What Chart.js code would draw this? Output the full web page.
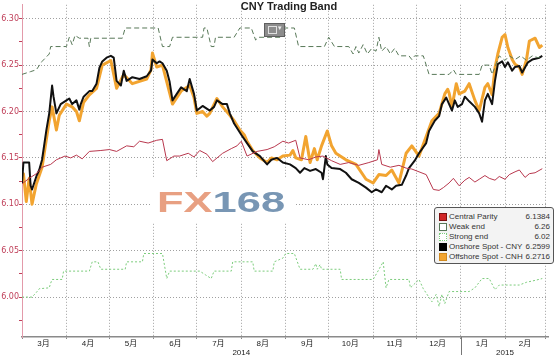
<!DOCTYPE html>
<html>
<head>
<meta charset="utf-8">
<script src="https://cdn.jsdelivr.net/npm/chart.js@4.4.1/dist/chart.umd.min.js"></script>
<style>
  html, body { margin: 0; padding: 0; background: #fff; }
  #wrap { position: relative; width: 555px; height: 355px; overflow: hidden; font-family: "Liberation Sans", Arial, sans-serif; }
  #chart { position: absolute; left: 0; top: 0; }
  #title { position: absolute; left: 189px; width: 200px; top: 0px; text-align: center; font-weight: bold; font-size: 11px; color: #222; }
  #icon { position: absolute; left: 264px; top: 23px; width: 19px; height: 12px; background: #8c8c8c; border: 1px solid #5e5e5e; }
  #icon .pic { position: absolute; left: 3px; top: 2px; width: 7px; height: 6px; border: 1px solid #e0e0e0; }
  #icon .arr { position: absolute; left: 13px; top: 0px; font-size: 7px; color: #eee; }
  #fx { position: absolute; left: 152px; top: 177px; width: 144px; height: 46px; background: #fff; }
  #fx .txt { position: absolute; left: 5px; top: 2px; line-height: 46px; font-size: 30px; font-weight: bold; transform: scaleX(1.45); transform-origin: left center; white-space: nowrap; }
  #fx .a { color: #e8a082; }
  #fx .b { color: #7896b4; }
  #legend { position: absolute; left: 434px; top: 207px; width: 118px; height: 55px; background: #f3f3f3; border: 1px solid #555; border-radius: 3px; font-size: 8px; color: #333; }
  #legend .row { position: absolute; left: 0; width: 118px; height: 10px; line-height: 10px; }
  #legend .sw { position: absolute; left: 4px; top: 1px; width: 6px; height: 6px; }
  #legend .nm { position: absolute; left: 14px; top: 0; white-space: nowrap; }
  #legend .vl { position: absolute; right: 3px; top: 0; white-space: nowrap; }
</style>
</head>
<body>
<div id="wrap">
  <canvas id="chart" width="555" height="355"></canvas>
  <div id="title">CNY Trading Band</div>
  <div id="icon"><div class="pic"></div><div class="arr">▾</div></div>
  <div id="fx"><div class="txt"><span class="a">FX</span><span class="b">168</span></div></div>
  <div id="legend"></div>
</div>
<script>
// days counted from 2014-03-01
const monthStartDays = [0, 31, 61, 92, 122, 153, 184, 214, 245, 275, 306, 337, 365];
const midMonthDays = [15, 46, 76, 107, 137, 168, 199, 229, 260, 290, 321, 351];
const monthLabels = ['3月', '4月', '5月', '6月', '7月', '8月', '9月', '10月', '11月', '12月', '1月', '2月'];
const yearLabelDays = [153, 337];
const yearLabels = ['2014', '2015'];
const yearStartDay = 306;

const yMajorTicks = [6.00, 6.05, 6.10, 6.15, 6.20, 6.25, 6.30];
const yMinorTicks = [5.975, 6.025, 6.075, 6.125, 6.175, 6.225, 6.275];

const seriesNames = ['Central Parity', 'Weak end', 'Strong end', 'Onshore Spot - CNY', 'Offshore Spot - CNH'];
const lastValues = ['6.1384', '6.26', '6.02', '6.2599', '6.2716'];

const parityDays = [0, 5, 10, 14, 20, 24, 30, 34, 38, 42, 47, 55, 61, 66, 73, 78, 82, 88, 94, 98, 101, 106, 110, 116, 120, 124, 129, 133, 140, 146, 150, 153, 157, 164, 171, 176, 182, 186, 191, 194, 200, 205, 210, 216, 222, 228, 235, 242, 248, 249, 251, 257, 263, 268, 272, 277, 282, 287, 291, 294, 298, 301, 305, 309, 312, 316, 319, 323, 326, 330, 333, 337, 340, 344, 347, 351, 354, 358, 363];
const parityValues = [6.122, 6.128, 6.133, 6.140, 6.143, 6.148, 6.152, 6.150, 6.153, 6.149, 6.157, 6.158, 6.159, 6.157, 6.163, 6.162, 6.168, 6.166, 6.169, 6.170, 6.147, 6.152, 6.152, 6.155, 6.151, 6.158, 6.154, 6.146, 6.155, 6.160, 6.163, 6.168, 6.152, 6.157, 6.159, 6.162, 6.168, 6.166, 6.169, 6.150, 6.148, 6.151, 6.152, 6.147, 6.143, 6.145, 6.142, 6.145, 6.148, 6.159, 6.143, 6.140, 6.142, 6.139, 6.138, 6.135, 6.132, 6.116, 6.115, 6.118, 6.123, 6.128, 6.120, 6.126, 6.129, 6.124, 6.127, 6.131, 6.128, 6.126, 6.130, 6.127, 6.132, 6.135, 6.137, 6.129, 6.133, 6.134, 6.1384];

const weakDays = [0, 6, 10, 14, 19, 20, 31, 33, 35, 37, 40, 46, 47, 48, 70, 72, 95, 98, 103, 105, 126, 127, 129, 132, 134, 135, 148, 152, 160, 163, 165, 182, 183, 190, 193, 211, 214, 218, 228, 231, 233, 235, 238, 241, 244, 247, 249, 251, 254, 257, 260, 263, 270, 272, 274, 280, 284, 298, 301, 303, 319, 321, 326, 328, 333, 337, 340, 344, 348, 352, 356, 360, 363];
const weakValues = [6.240, 6.243, 6.245, 6.254, 6.262, 6.270, 6.270, 6.280, 6.272, 6.282, 6.279, 6.279, 6.270, 6.279, 6.279, 6.290, 6.290, 6.270, 6.270, 6.280, 6.280, 6.290, 6.290, 6.270, 6.270, 6.280, 6.280, 6.290, 6.290, 6.277, 6.280, 6.280, 6.290, 6.290, 6.270, 6.270, 6.280, 6.270, 6.270, 6.262, 6.270, 6.263, 6.272, 6.262, 6.268, 6.265, 6.280, 6.265, 6.270, 6.262, 6.268, 6.260, 6.260, 6.256, 6.260, 6.260, 6.240, 6.240, 6.245, 6.240, 6.240, 6.250, 6.250, 6.240, 6.260, 6.255, 6.260, 6.256, 6.260, 6.255, 6.260, 6.258, 6.260];

const strongDays = [0, 7, 10, 12, 19, 20, 21, 28, 29, 47, 49, 53, 55, 72, 73, 84, 85, 98, 101, 103, 124, 128, 132, 134, 146, 147, 161, 162, 175, 176, 182, 184, 190, 194, 203, 205, 206, 208, 209, 222, 223, 245, 248, 252, 254, 256, 270, 271, 277, 280, 286, 289, 291, 293, 295, 298, 312, 316, 321, 326, 330, 333, 347, 352, 358, 363];
const strongValues = [6.000, 6.000, 6.005, 6.009, 6.010, 6.015, 6.019, 6.019, 6.028, 6.028, 6.038, 6.038, 6.030, 6.030, 6.038, 6.038, 6.047, 6.047, 6.020, 6.028, 6.028, 6.024, 6.020, 6.028, 6.028, 6.038, 6.038, 6.028, 6.028, 6.038, 6.042, 6.047, 6.047, 6.030, 6.030, 6.036, 6.030, 6.035, 6.030, 6.030, 6.019, 6.019, 6.027, 6.038, 6.010, 6.019, 6.019, 6.010, 6.019, 6.009, 5.995, 6.003, 5.990, 6.003, 5.993, 6.006, 6.006, 6.010, 6.020, 6.020, 6.008, 6.013, 6.013, 6.016, 6.018, 6.020];

const cnyDays = [0, 1, 5, 6, 7, 10, 12, 14, 17, 19, 21, 22, 24, 27, 31, 33, 35, 38, 40, 41, 43, 47, 49, 52, 54, 56, 59, 62, 64, 66, 69, 71, 73, 77, 82, 87, 90, 91, 94, 96, 98, 101, 103, 105, 108, 111, 115, 117, 120, 122, 126, 131, 134, 136, 140, 143, 145, 148, 153, 157, 161, 166, 171, 174, 178, 182, 187, 191, 194, 197, 201, 205, 209, 210, 212, 213, 216, 222, 226, 230, 235, 240, 244, 247, 251, 254, 258, 261, 265, 268, 270, 274, 277, 282, 284, 288, 291, 293, 296, 300, 302, 304, 307, 309, 312, 316, 319, 321, 323, 325, 328, 330, 332, 335, 337, 339, 342, 344, 347, 349, 353, 356, 361, 363];
const cnyValues = [6.123, 6.145, 6.145, 6.120, 6.116, 6.130, 6.137, 6.148, 6.180, 6.198, 6.228, 6.216, 6.198, 6.208, 6.212, 6.214, 6.208, 6.212, 6.202, 6.208, 6.216, 6.222, 6.222, 6.230, 6.247, 6.254, 6.258, 6.260, 6.258, 6.233, 6.228, 6.244, 6.233, 6.237, 6.235, 6.238, 6.244, 6.256, 6.252, 6.254, 6.252, 6.244, 6.232, 6.212, 6.219, 6.226, 6.222, 6.235, 6.219, 6.201, 6.206, 6.201, 6.205, 6.212, 6.208, 6.208, 6.198, 6.187, 6.175, 6.166, 6.157, 6.152, 6.143, 6.148, 6.150, 6.145, 6.143, 6.139, 6.134, 6.139, 6.136, 6.138, 6.134, 6.127, 6.152, 6.143, 6.139, 6.138, 6.134, 6.127, 6.123, 6.118, 6.113, 6.116, 6.113, 6.120, 6.116, 6.120, 6.121, 6.131, 6.139, 6.147, 6.155, 6.166, 6.179, 6.190, 6.195, 6.208, 6.215, 6.201, 6.212, 6.205, 6.208, 6.216, 6.211, 6.205, 6.198, 6.189, 6.212, 6.219, 6.208, 6.233, 6.251, 6.254, 6.248, 6.253, 6.244, 6.248, 6.249, 6.242, 6.253, 6.256, 6.258, 6.2599];

const cnhDays = [0, 1, 3, 5, 7, 10, 14, 17, 19, 21, 24, 26, 31, 35, 38, 40, 43, 47, 52, 56, 62, 66, 71, 77, 87, 90, 91, 94, 98, 103, 105, 111, 117, 120, 122, 126, 129, 131, 136, 140, 145, 148, 152, 155, 157, 161, 166, 171, 174, 178, 182, 187, 189, 191, 195, 198, 201, 204, 206, 209, 213, 216, 219, 226, 233, 240, 245, 249, 254, 258, 263, 268, 272, 277, 282, 286, 291, 295, 297, 298, 300, 303, 305, 309, 312, 316, 319, 323, 325, 328, 330, 332, 335, 337, 339, 342, 344, 347, 349, 352, 354, 358, 361, 363];
const cnhValues = [6.123, 6.133, 6.103, 6.128, 6.100, 6.122, 6.140, 6.170, 6.190, 6.205, 6.180, 6.196, 6.208, 6.205, 6.200, 6.190, 6.210, 6.218, 6.225, 6.250, 6.255, 6.225, 6.240, 6.230, 6.235, 6.245, 6.263, 6.248, 6.250, 6.220, 6.208, 6.222, 6.228, 6.215, 6.198, 6.200, 6.195, 6.198, 6.214, 6.205, 6.196, 6.190, 6.180, 6.175, 6.168, 6.158, 6.150, 6.145, 6.150, 6.148, 6.152, 6.153, 6.158, 6.150, 6.148, 6.173, 6.145, 6.160, 6.148, 6.163, 6.179, 6.163, 6.155, 6.148, 6.143, 6.127, 6.123, 6.132, 6.131, 6.137, 6.123, 6.155, 6.163, 6.152, 6.173, 6.190, 6.198, 6.219, 6.224, 6.220, 6.205, 6.230, 6.219, 6.222, 6.230, 6.212, 6.201, 6.226, 6.230, 6.218, 6.247, 6.262, 6.280, 6.283, 6.269, 6.256, 6.251, 6.248, 6.240, 6.256, 6.276, 6.279, 6.269, 6.2716];

const seriesColors = ['#b8384e', '#587858', '#7ccc7c', '#111111', '#f2a430'];
const swatchStyles = [
  'background:#d02525;border:1px solid #7a1010;',
  'background:#fff;border:1px solid #587858;',
  'background:#fff;border:1px dotted #7ccc7c;',
  'background:#000;border:1px solid #000;',
  'background:#f2a430;border:1px solid #d08a20;'
];

function points(days, values) {
  return days.map((d, i) => ({ x: d, y: values[i] }));
}

// legend box
const legendEl = document.getElementById('legend');
seriesNames.forEach((name, i) => {
  const row = document.createElement('div');
  row.className = 'row';
  row.style.top = (4 + i * 10) + 'px';
  row.innerHTML = '<div class="sw" style="' + swatchStyles[i] + '"></div>' +
    '<div class="nm">' + name + '</div><div class="vl">' + lastValues[i] + '</div>';
  legendEl.appendChild(row);
});

const yearSeparator = {
  id: 'yearSeparator',
  afterDraw(chart) {
    const { ctx, chartArea } = chart;
    const px = Math.round(chart.scales.x.getPixelForValue(yearStartDay)) + 0.5;
    ctx.save();
    ctx.strokeStyle = '#777';
    ctx.lineWidth = 1;
    ctx.beginPath();
    ctx.moveTo(px, chartArea.bottom);
    ctx.lineTo(px, chart.height);
    ctx.stroke();
    ctx.restore();
  }
};

const isMajorY = v => yMajorTicks.some(t => Math.abs(t - v) < 1e-6);

new Chart(document.getElementById('chart'), {
  type: 'line',
  data: {
    datasets: [
      { label: seriesNames[0], data: points(parityDays, parityValues), borderColor: seriesColors[0], borderWidth: 1 },
      { label: seriesNames[1], data: points(weakDays, weakValues), borderColor: seriesColors[1], borderWidth: 1, borderDash: [5, 3] },
      { label: seriesNames[2], data: points(strongDays, strongValues), borderColor: seriesColors[2], borderWidth: 1, borderDash: [2, 2] },
      { label: seriesNames[3], data: points(cnyDays, cnyValues), borderColor: seriesColors[3], borderWidth: 2 },
      { label: seriesNames[4], data: points(cnhDays, cnhValues), borderColor: seriesColors[4], borderWidth: 3 }
    ]
  },
  options: {
    responsive: false,
    animation: false,
    devicePixelRatio: 1,
    layout: { padding: { left: 0, right: 7, top: 0, bottom: 0 } },
    elements: { point: { radius: 0 }, line: { tension: 0, borderJoinStyle: 'round' } },
    plugins: { legend: { display: false }, tooltip: { enabled: false }, title: { display: false } },
    scales: {
      x: {
        type: 'linear',
        min: 0,
        max: 367,
        afterFit: s => { s.height = 18; },
        afterBuildTicks: s => {
          s.ticks = monthStartDays.concat(midMonthDays).sort((a, b) => a - b).map(v => ({ value: v }));
        },
        ticks: {
          autoSkip: false,
          maxRotation: 0,
          padding: 1,
          color: '#222',
          font: { family: '"Liberation Sans", "Noto Sans CJK SC", sans-serif', size: 8, lineHeight: 1.05 },
          callback: v => {
            const m = midMonthDays.indexOf(v);
            if (m >= 0) return monthLabels[m];
            const y = yearLabelDays.indexOf(v);
            if (y >= 0) return ['', yearLabels[y]];
            return '';
          }
        },
        grid: {
          tickLength: 2,
          lineWidth: 1,
          color: c => (c.tick && monthStartDays.includes(c.tick.value)) ? '#a0a0a0' : 'rgba(0,0,0,0)',
          tickColor: c => (c.tick && monthStartDays.includes(c.tick.value)) ? '#888' : 'rgba(0,0,0,0)'
        },
        border: { color: '#8a8a8a', width: 1.5, dash: [1, 2] }
      },
      y: {
        min: 5.957,
        max: 6.315,
        afterFit: s => { s.width = 22; },
        afterBuildTicks: s => {
          s.ticks = yMajorTicks.concat(yMinorTicks).sort((a, b) => a - b).map(v => ({ value: v }));
        },
        ticks: {
          padding: 0,
          color: '#c0405a',
          font: { family: '"DejaVu Sans", sans-serif', size: 8 },
          callback: v => isMajorY(v) ? v.toFixed(2) : ''
        },
        grid: {
          tickLength: 3,
          lineWidth: 1,
          color: c => (c.tick && isMajorY(c.tick.value)) ? '#a0a0a0' : 'rgba(0,0,0,0)',
          tickColor: '#c0405a'
        },
        border: { color: '#e39aaa', width: 1, dash: [1, 2] }
      }
    }
  },
  plugins: [yearSeparator]
});
</script>
</body>
</html>
